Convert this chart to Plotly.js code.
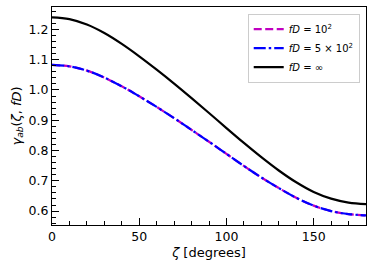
<!DOCTYPE html>
<html>
<head>
<meta charset="utf-8">
<script src="https://cdn.plot.ly/plotly-3.0.1.min.js"></script>
<style>html,body{margin:0;padding:0;background:#fff;}#chart{width:374px;height:270px;}</style>
</head>
<body>
<div id="chart"></div>
<script>
const zeta = [0,10,20,30,40,50,60,70,80,90,100,110,120,130,140,150,160,170,180];
const gammaFD1e2 = [1.083,1.078,1.064,1.041,1.012,0.979,0.944,0.907,0.868,0.829,0.789,0.749,0.711,0.676,0.644,0.618,0.600,0.590,0.586];
const gammaFD5e2 = [1.083,1.078,1.064,1.041,1.012,0.979,0.944,0.907,0.868,0.829,0.789,0.749,0.711,0.676,0.644,0.618,0.600,0.590,0.586];
const gammaInf = [1.240,1.234,1.216,1.188,1.152,1.111,1.067,1.021,0.973,0.924,0.874,0.825,0.778,0.734,0.695,0.663,0.641,0.628,0.623];
const labels = ['<i>fD</i> = 10<sup>2</sup>','<i>fD</i> = 5 × 10<sup>2</sup>','<i>fD</i> = ∞'];

const traces = [
  {x: zeta, y: gammaFD1e2, mode:'lines', name: labels[0], line:{color:'#c000c0', width:2.2, dash:'8px,3.5px', shape:'spline'}},
  {x: zeta, y: gammaFD5e2, mode:'lines', name: labels[1], line:{color:'#0000ff', width:2.2, dash:'12px,3px,2.5px,3px', shape:'spline'}},
  {x: zeta, y: gammaInf, mode:'lines', name: labels[2], line:{color:'#000000', width:2.2, shape:'spline'}}
];

const axisCommon = {
  showgrid:false, zeroline:false, showline:true, mirror:true, linecolor:'#000', linewidth:1,
  ticks:'inside', ticklen:7, tickwidth:1, tickcolor:'#000',
  tickfont:{family:'DejaVu Sans', size:12.5, color:'#000'}
};

const layout = {
  width:374, height:270,
  margin:{l:52, r:8, t:7, b:45},
  paper_bgcolor:'#fff', plot_bgcolor:'#fff',
  font:{family:'DejaVu Sans', color:'#000'},
  showlegend:true,
  legend:{x:0.98, y:0.97, xanchor:'right', yanchor:'top', bgcolor:'rgba(255,255,255,0.8)', bordercolor:'#cccccc', borderwidth:1,
          font:{family:'DejaVu Sans', size:10, color:'#000'}, tracegroupgap:0, itemwidth:30},
  xaxis: Object.assign({}, axisCommon, {
    range:[0,180], tickvals:[0,50,100,150], ticktext:['0','50','100','150'],
    minor:{dtick:10, tick0:0, ticks:'inside', ticklen:4, tickcolor:'#000'},
    title:{text:'<i>ζ</i> [degrees]', font:{family:'DejaVu Sans', size:13, color:'#000'}, standoff:4}
  }),
  yaxis: Object.assign({}, axisCommon, {
    range:[0.554,1.274], tickvals:[0.6,0.7,0.8,0.9,1.0,1.1,1.2], ticktext:['0.6','0.7','0.8','0.9','1.0','1.1','1.2'],
    minor:{dtick:0.02, tick0:0.6, ticks:'inside', ticklen:4, tickcolor:'#000'},
    title:{text:'<i>γ</i><sub><i>ab</i></sub>(<i>ζ</i>, <i>fD</i>)', font:{family:'DejaVu Sans', size:13, color:'#000'}, standoff:4}
  })
};

Plotly.newPlot('chart', traces, layout, {displayModeBar:false, staticPlot:true});
</script>
</body>
</html>
